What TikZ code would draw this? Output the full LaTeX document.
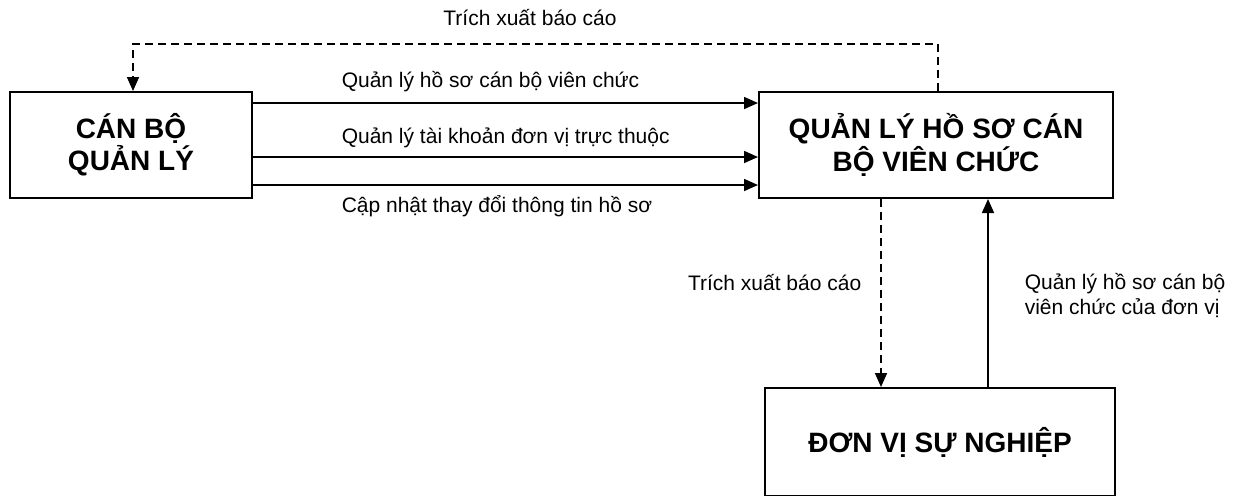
\documentclass[tikz,border=0pt]{standalone}
\usepackage{fontspec}
\setmainfont{Liberation Sans}
\usetikzlibrary{arrows.meta}
\tikzset{
	khoi/.style={draw, line width=1pt, align=center, inner sep=0pt, font=\fontsize{14}{14.5}\selectfont\bfseries},
	nhan/.style={inner sep=0pt, font=\fontsize{10.5}{12.5}\selectfont},
	netdut/.style={dash pattern=on 4pt off 2.5pt},
}
\begin{document}
\begin{tikzpicture}[x=0.5pt, y=-0.5pt, >={Triangle[length=7pt,width=6pt]}, line width=0.8pt, line join=miter]
	\useasboundingbox (0,0) rectangle (1237,495);
	% cac khoi
	\node[khoi, minimum width=121pt, minimum height=53pt] (cb) at (131,145) {CÁN BỘ\\QUẢN LÝ};
	\node[khoi, minimum width=177pt, minimum height=53pt] (ql) at (936,145) {QUẢN LÝ HỒ SƠ CÁN\\BỘ VIÊN CHỨC};
	\node[khoi, minimum width=175pt, minimum height=54pt] (dv) at (940,442) {ĐƠN VỊ SỰ NGHIỆP};
	% trich xuat ve can bo
	\draw[->, netdut] (ql.north -| 938,0) -- (938,44) -| (cb.north -| 133,0);
	\node[nhan] (tx1) at (530,18) {Trích xuất báo cáo};
	% ba luong sang phai
	\draw[->] (cb.east |- 0,103) -- (ql.west |- 0,103);
	\draw[->] (cb.east |- 0,157) -- (ql.west |- 0,157);
	\draw[->] (cb.east |- 0,185) -- (ql.west |- 0,185);
	\node[nhan, anchor=west] (l1) at (341,82) {Quản lý hồ sơ cán bộ viên chức};
	\node[nhan, anchor=west] (l2) at (341,138) {Quản lý tài khoản đơn vị trực thuộc};
	\node[nhan, anchor=west] (l3) at (341,206) {Cập nhật thay đổi thông tin hồ sơ};
	% giua he thong va don vi
	\draw[->, netdut] (ql.south -| 881,0) -- (dv.north -| 881,0);
	\draw[->] (dv.north -| 988,0) -- (ql.south -| 988,0);
	\node[nhan, anchor=east] (tx2) at (862,283) {Trích xuất báo cáo};
	\node[nhan, anchor=west, align=left] (l4) at (1024,296) {Quản lý hồ sơ cán bộ\\viên chức của đơn vị};
\end{tikzpicture}
\end{document}
